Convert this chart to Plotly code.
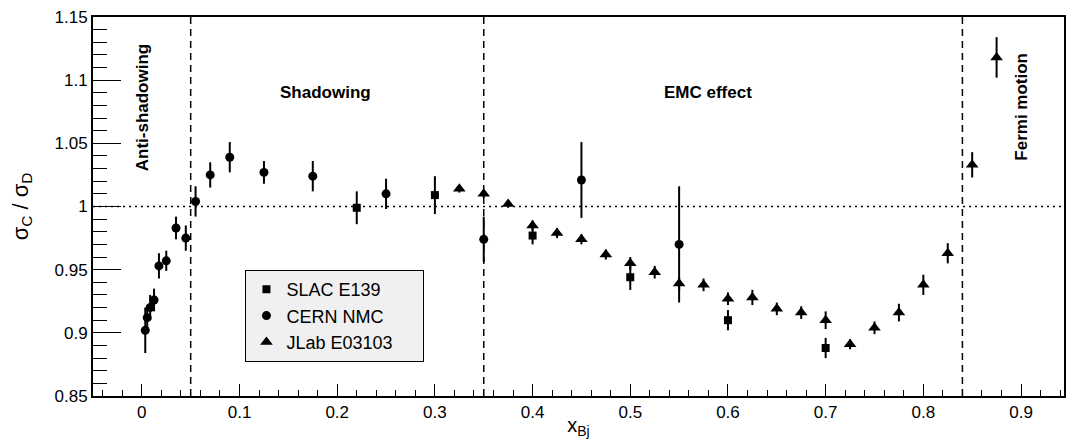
import plotly.graph_objects as go

# ---- data ----
slac_x = [0.22, 0.30, 0.40, 0.50, 0.60, 0.70]
slac_y = [0.999, 1.009, 0.977, 0.944, 0.910, 0.888]
slac_err = [0.013, 0.015, 0.007, 0.010, 0.008, 0.008]

nmc_x = [0.0035, 0.0055, 0.0085, 0.0125, 0.0175, 0.025, 0.035, 0.045, 0.055,
         0.070, 0.090, 0.125, 0.175, 0.250, 0.350, 0.450, 0.550]
nmc_y = [0.902, 0.912, 0.920, 0.926, 0.953, 0.957, 0.983, 0.975, 1.004,
         1.025, 1.039, 1.027, 1.024, 1.010, 0.974, 1.021, 0.970]
nmc_err = [0.018, 0.010, 0.010, 0.009, 0.010, 0.008, 0.009, 0.010, 0.012,
           0.010, 0.012, 0.009, 0.012, 0.012, 0.018, 0.030, 0.046]

jlab_x = [0.325, 0.350, 0.375, 0.400, 0.425, 0.450, 0.475, 0.500, 0.525, 0.550,
          0.575, 0.600, 0.625, 0.650, 0.675, 0.700, 0.725, 0.750, 0.775, 0.800,
          0.825, 0.850, 0.875]
jlab_y = [1.014, 1.010, 1.002, 0.985, 0.979, 0.974, 0.962, 0.955, 0.948, 0.939,
          0.938, 0.927, 0.928, 0.919, 0.916, 0.910, 0.891, 0.904, 0.916, 0.938,
          0.963, 1.033, 1.118]
jlab_err = [0.003, 0.003, 0.003, 0.004, 0.004, 0.004, 0.004, 0.005, 0.005, 0.005,
            0.005, 0.005, 0.006, 0.005, 0.005, 0.007, 0.004, 0.005, 0.007, 0.008,
            0.008, 0.010, 0.016]

region_bounds = [0.05, 0.35, 0.84]
unity = 1.0

x_tickvals = [0, 0.1, 0.2, 0.3, 0.4, 0.5, 0.6, 0.7, 0.8, 0.9]
x_ticktext = ["0", "0.1", "0.2", "0.3", "0.4", "0.5", "0.6", "0.7", "0.8", "0.9"]
y_tickvals = [0.85, 0.9, 0.95, 1.0, 1.05, 1.1, 1.15]
y_ticktext = ["0.85", "0.9", "0.95", "1", "1.05", "1.1", "1.15"]

FONT = "Liberation Sans, Arial, Helvetica, sans-serif"
PAD = "\u00a0" * 5  # widen the legend box like the reference

fig = go.Figure()

def add_series(name, xs, ys, errs, symbol, size):
    fig.add_trace(go.Scatter(
        x=xs, y=ys, mode="markers", name=name + PAD, legendgroup=name,
        marker=dict(symbol=symbol, size=size, color="black"),
        error_y=dict(type="data", array=errs, visible=True,
                     color="black", thickness=2, width=0),
    ))

add_series("SLAC E139", slac_x, slac_y, slac_err, "square", 8)
add_series("CERN NMC", nmc_x, nmc_y, nmc_err, "circle", 9)
add_series("JLab E03103", jlab_x, jlab_y, jlab_err, "triangle-up", 11)

shapes = [dict(type="line", xref="paper", yref="y", x0=0, x1=1, y0=unity, y1=unity,
               line=dict(color="black", width=1.5, dash="2px,4px"), layer="below")]
for xb in region_bounds:
    shapes.append(dict(type="line", xref="x", yref="paper", x0=xb, x1=xb, y0=0, y1=1,
                       line=dict(color="black", width=1.5, dash="7px,5px"), layer="below"))

ann_font = dict(family=FONT, size=17, color="black")
annotations = [
    dict(x=0.0015, y=1.078, xref="x", yref="y", text="<b>Anti-shadowing</b>",
         textangle=-90, showarrow=False, font=ann_font),
    dict(x=0.188, y=1.0905, xref="x", yref="y", text="<b>Shadowing</b>",
         showarrow=False, font=ann_font),
    dict(x=0.58, y=1.0905, xref="x", yref="y", text="<b>EMC effect</b>",
         showarrow=False, font=ann_font),
    dict(x=0.901, y=1.079, xref="x", yref="y", text="<b>Fermi motion</b>",
         textangle=-90, showarrow=False, font=ann_font),
]

fig.update_layout(
    width=1067, height=439,
    margin=dict(l=93, r=1, t=17, b=40),
    paper_bgcolor="white", plot_bgcolor="white",
    font=dict(family=FONT, size=17, color="black"),
    shapes=shapes, annotations=annotations,
    showlegend=True,
    legend=dict(x=0.157, y=0.3325, xanchor="left", yanchor="top",
                bgcolor="#f0f0f0", bordercolor="black", borderwidth=1,
                font=dict(family=FONT, size=18, color="black"),
                traceorder="grouped", tracegroupgap=0),
    xaxis=dict(range=[-0.05, 0.944], showline=True, linecolor="black", linewidth=2,
               mirror=True, ticks="inside", ticklen=12, tickwidth=1, tickcolor="black",
               tickvals=x_tickvals, ticktext=x_ticktext, showgrid=False, zeroline=False,
               minor=dict(dtick=0.02, tick0=0, ticks="inside", ticklen=6,
                          tickcolor="black", tickwidth=1, showgrid=False),
               title=dict(text="x<sub>Bj</sub>", font=dict(family=FONT, size=20),
                          standoff=2),
               tickfont=dict(family=FONT, size=17)),
    yaxis=dict(range=[0.85, 1.15], showline=True, linecolor="black", linewidth=2,
               mirror=True, ticks="inside", ticklen=28, tickwidth=1, tickcolor="black",
               tickvals=y_tickvals, ticktext=y_ticktext, showgrid=False, zeroline=False,
               minor=dict(dtick=0.01, tick0=0.85, ticks="inside", ticklen=14,
                          tickcolor="black", tickwidth=1, showgrid=False),
               title=dict(text="σ<sub>C</sub> / σ<sub>D</sub>",
                          font=dict(family=FONT, size=22), standoff=20),
               tickfont=dict(family=FONT, size=17)),
)

fig.write_html("out.html")
